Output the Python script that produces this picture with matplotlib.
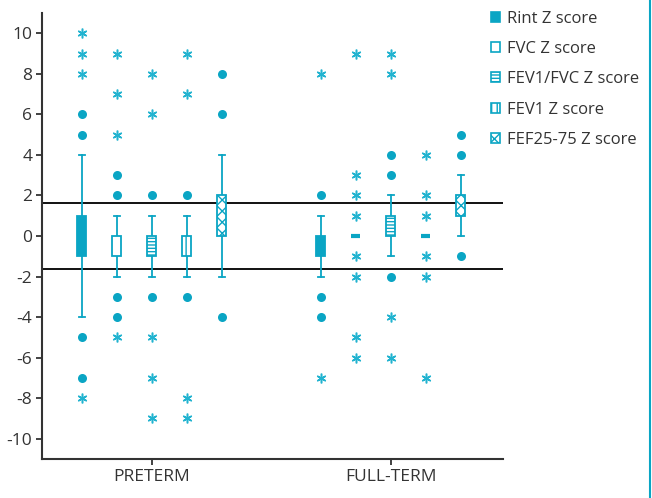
import numpy as np
import matplotlib
matplotlib.use('Agg')
import matplotlib.pyplot as plt
from matplotlib.patches import Patch
from matplotlib.lines import Line2D

plt.rcParams['font.family'] = ['Open Sans', 'DejaVu Sans']
plt.rcParams['axes.unicode_minus'] = False
plt.rcParams['hatch.linewidth'] = 1.0

# ---- data ----
groups = ['PRETERM', 'FULL-TERM']
measures = ['Rint Z score', 'FVC Z score', 'FEV1/FVC Z score', 'FEV1 Z score', 'FEF25-75 Z score']

# per group, per measure: [whisker low, q1, median, q3, whisker high]
pre_box = [
    [-4, -1, 0, 1, 4],
    [-2, -1, 0, 0, 1],
    [-2, -1, 0, 0, 1],
    [-2, -1, 0, 0, 1],
    [-2, 0, 1, 2, 4],
]
full_box = [
    [-2, -1, 0, 0, 1],
    [0, 0, 0, 0, 0],
    [-1, 0, 0, 1, 2],
    [0, 0, 0, 0, 0],
    [0, 1, 1, 2, 3],
]
# outliers (dots) and extreme values (asterisks)
pre_out = [[6, 5, -5, -7], [3, 2, -3, -4], [2, -3], [2, -3], [8, 6, -4]]
pre_ext = [[10, 9, 8, -8], [9, 7, 5, -5], [8, 6, -5, -7, -9], [9, 7, -8, -9], []]
full_out = [[2, -3, -4], [], [4, 3, -2], [], [5, 4, -1]]
full_ext = [[8, -7], [9, 3, 2, 1, -1, -2, -5, -6], [9, 8, -4, -6], [4, 2, 1, -1, -2, -7], []]

ref_limit = 1.645

# ---- style ----
cyan = '#0aa5c4'
star_c = '#22b3d0'
dark = '#333333'
fills = ['solid', 'none', 'none', 'none', 'none']
hatches = [None, None, '-----', '|||', 'xxx']

fig = plt.figure(figsize=(6.52, 4.98), dpi=100)
ax = fig.add_axes([42 / 652, 39 / 498, 461 / 652, 446 / 498])

centers = np.array([0.0, 1.0])
step = 0.1465
box_w = 0.038

for g, (boxes, outs, exts) in enumerate([(pre_box, pre_out, pre_ext),
                                         (full_box, full_out, full_ext)]):
    for i in range(len(measures)):
        x = centers[g] + (i - 2) * step
        lo, q1, med, q3, hi = boxes[i]
        stats = [dict(whislo=lo, q1=q1, med=med, q3=q3, whishi=hi, fliers=[])]
        degenerate = q1 == q3
        bp = ax.bxp(stats, positions=[x], widths=box_w, patch_artist=True,
                    showfliers=False, manage_ticks=False,
                    boxprops=dict(facecolor=cyan if fills[i] == 'solid' else 'white',
                                  edgecolor=cyan,
                                  linewidth=3 if degenerate else 1.3,
                                  hatch=hatches[i]),
                    whiskerprops=dict(color=cyan, linewidth=1.3),
                    capprops=dict(color=cyan, linewidth=1.3),
                    capwidths=0.022,
                    medianprops=dict(visible=False))
        for b in bp['boxes']:
            b.set_zorder(3)
        if outs[i]:
            ax.plot([x] * len(outs[i]), outs[i], 'o', color=cyan, ms=6.5,
                    mec='none', zorder=4)
        if exts[i]:
            ax.plot([x] * len(exts[i]), exts[i], marker=(6, 2, 0), ls='none',
                    color=star_c, ms=7, mew=1.1, zorder=4)

ax.axhline(ref_limit, color='#111111', lw=1.4, zorder=1)
ax.axhline(-ref_limit, color='#111111', lw=1.4, zorder=1)

ax.set_xlim(-0.460, 1.469)
ax.set_ylim(-11, 11)
ax.set_yticks(np.arange(-10, 11, 2))
ax.set_xticks(centers)
ax.set_xticklabels(groups)
ax.tick_params(axis='both', labelsize=12.5, colors=dark, length=4, width=1.3, pad=3)
for s in ['top', 'right']:
    ax.spines[s].set_visible(False)
for s in ['left', 'bottom']:
    ax.spines[s].set_color(dark)
    ax.spines[s].set_linewidth(1.5)

# legend
handles = []
for i in range(len(measures)):
    handles.append(Patch(facecolor=cyan if fills[i] == 'solid' else 'white',
                         edgecolor=cyan, hatch=hatches[i], linewidth=1.2))
leg = fig.legend(handles, measures, loc='upper left',
                 bbox_to_anchor=(484 / 652, 1 - 4 / 498), frameon=False,
                 fontsize=12, handlelength=0.55, handleheight=0.55,
                 handletextpad=0.4, labelspacing=0.86, borderaxespad=0)
for t in leg.get_texts():
    t.set_color(dark)

# page border line on the right
fig.add_artist(Line2D([650 / 652, 650 / 652], [0, 1], color=cyan, lw=1.5))

fig.savefig('out.png', dpi=100)
